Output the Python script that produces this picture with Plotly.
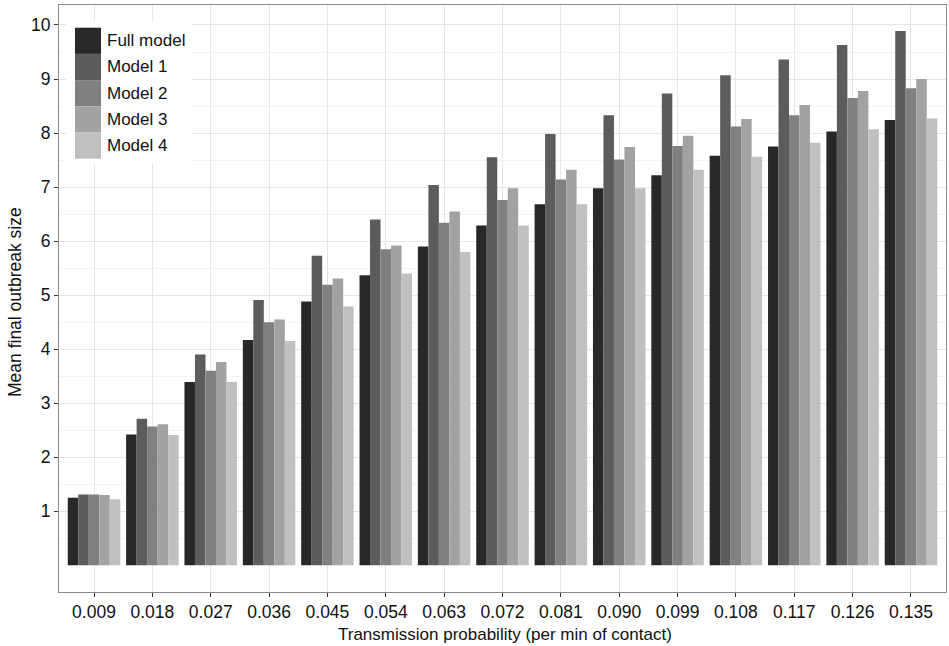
import plotly.graph_objects as go

categories = ["0.009", "0.018", "0.027", "0.036", "0.045", "0.054", "0.063", "0.072",
              "0.081", "0.090", "0.099", "0.108", "0.117", "0.126", "0.135"]
series_names = ["Full model", "Model 1", "Model 2", "Model 3", "Model 4"]
full_model = [1.25, 2.42, 3.39, 4.17, 4.88, 5.37, 5.90, 6.29, 6.68, 6.98, 7.22, 7.58, 7.75, 8.03, 8.24]
model_1 = [1.31, 2.71, 3.90, 4.91, 5.73, 6.40, 7.04, 7.55, 7.98, 8.33, 8.73, 9.07, 9.36, 9.63, 9.89]
model_2 = [1.31, 2.57, 3.60, 4.50, 5.19, 5.85, 6.34, 6.76, 7.14, 7.51, 7.76, 8.12, 8.33, 8.65, 8.83]
model_3 = [1.30, 2.61, 3.76, 4.55, 5.31, 5.92, 6.55, 6.98, 7.32, 7.74, 7.95, 8.26, 8.52, 8.78, 9.00]
model_4 = [1.22, 2.41, 3.39, 4.15, 4.79, 5.40, 5.80, 6.29, 6.68, 6.98, 7.32, 7.56, 7.82, 8.07, 8.27]
series_values = [full_model, model_1, model_2, model_3, model_4]
colors = ["#282828", "#5c5c5c", "#808080", "#a2a2a2", "#c0c0c0"]
y_ticks = [1, 2, 3, 4, 5, 6, 7, 8, 9, 10]
y_minor = [0.5, 1.5, 2.5, 3.5, 4.5, 5.5, 6.5, 7.5, 8.5, 9.5]

FONT = "Liberation Sans, Arial, Helvetica, sans-serif"
W, H = 949, 646
ML, MR, MT, MB = 59, 3, 5, 54
PW, PH = W - ML - MR, H - MT - MB


def px_x(p):
    return (p - ML) / PW


def px_y(p):
    return (H - MB - p) / PH


fig = go.Figure()
for name, vals, col in zip(series_names, series_values, colors):
    fig.add_trace(go.Bar(x=categories, y=vals, name=name, marker=dict(color=col, line=dict(width=0)),
                         showlegend=False))

# custom ggplot-like legend
shapes = [dict(type="rect", xref="paper", yref="paper", layer="above",
               x0=px_x(66), x1=px_x(192), y0=px_y(164), y1=px_y(22),
               fillcolor="white", line=dict(width=0))]
annotations = []
key_top, key_h = 27.7, 26.2
for i, (name, col) in enumerate(zip(series_names, colors)):
    t = key_top + i * key_h
    shapes.append(dict(type="rect", xref="paper", yref="paper", layer="above",
                       x0=px_x(75), x1=px_x(101), y0=px_y(t + key_h), y1=px_y(t),
                       fillcolor=col, line=dict(width=0)))
    annotations.append(dict(xref="paper", yref="paper", x=px_x(105), y=px_y(t + key_h / 2),
                            xanchor="left", yanchor="middle", text=name, showarrow=False,
                            font=dict(family=FONT, size=17, color="#111111")))

# axis titles as annotations to pin their positions
annotations.append(dict(xref="paper", yref="paper", x=px_x(505), y=px_y(634),
                        xanchor="center", yanchor="middle", showarrow=False,
                        text="Transmission probability (per min of contact)",
                        font=dict(family=FONT, size=17, color="#111111")))
annotations.append(dict(xref="paper", yref="paper", x=px_x(15), y=px_y(302),
                        xanchor="center", yanchor="middle", showarrow=False, textangle=-90,
                        text="Mean final outbreak size",
                        font=dict(family=FONT, size=17.5, color="#111111")))

fig.update_layout(
    width=W, height=H,
    margin=dict(l=ML, r=MR, t=MT, b=MB, autoexpand=False),
    paper_bgcolor="white", plot_bgcolor="white",
    barmode="group", bargap=0.1, bargroupgap=0,
    font=dict(family=FONT, size=17, color="#111111"),
    shapes=shapes, annotations=annotations,
    showlegend=False,
)
fig.update_xaxes(
    type="category", range=[-0.6, 14.6], automargin=False,
    showgrid=True, gridcolor="#e6e6e6", gridwidth=1,
    ticks="outside", ticklen=4, tickcolor="#333333", tickwidth=1,
    tickfont=dict(family=FONT, size=17.5, color="#111111"),
    showline=True, mirror=True, linecolor="#8a8a8a", linewidth=1,
)
fig.update_yaxes(
    range=[-0.495, 10.37], tickvals=y_ticks, zeroline=False, automargin=False,
    showgrid=True, gridcolor="#e6e6e6", gridwidth=1,
    minor=dict(tickvals=y_minor, showgrid=True, gridcolor="#f3f3f3", gridwidth=1, ticks=""),
    ticks="outside", ticklen=4, tickcolor="#333333", tickwidth=1,
    tickfont=dict(family=FONT, size=17.5, color="#111111"),
    showline=True, mirror=True, linecolor="#8a8a8a", linewidth=1,
)

fig.write_html("out.html", config={"displayModeBar": False},
               post_script="document.body.style.margin='0';document.body.style.overflow='hidden';")
